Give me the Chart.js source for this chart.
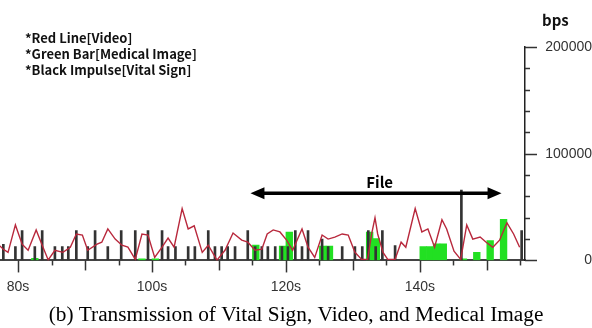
<!DOCTYPE html>
<html>
<head>
<meta charset="utf-8">
<script src="https://cdn.jsdelivr.net/npm/chart.js@4.4.1/dist/chart.umd.min.js"></script>
<style>
  html, body { margin: 0; padding: 0; background: #fff; }
  #wrap { width: 592px; height: 328px; }
</style>
</head>
<body>
<div id="wrap"><canvas id="grafico" width="592" height="328"></canvas></div>
<script>
// Red line: video traffic (time in s, bps)
const videoTimes = [77.2, 77.8, 78.5, 79.6, 80.6, 81.5, 82.7, 83.6, 84.5, 85.5, 86.7, 87.8, 88.7, 89.6, 90.4,
  91.8, 92.5, 93.4, 94.5, 95.5, 96.4, 97.5, 98.5, 99.4, 100.4, 101.5, 102.4, 103.3, 104.5, 105.4, 106.3,
  107.5, 108.4, 109.7, 110.9, 112.1, 113.4, 114.3, 115.4, 116.4, 117.2, 118.1, 119.1, 120.1, 121.0, 122.4,
  123.3, 124.3, 125.4, 126.3, 127.3, 128.4, 129.3, 130.3, 131.3, 132.2, 132.8, 133.3, 133.7, 134.5, 135.2,
  136.3, 137.2, 137.9, 139.3, 140.3, 141.2, 142.2, 143.3, 144.0, 145.1, 146.1, 147.0, 147.9, 149.0, 149.9,
  150.9, 151.9, 153.0, 154.0, 154.9];
const videoBps = [14000, 10500, 7600, 33300, 15200, 9500, 28600, 14300, 500, 9500, 7600, 12400, 24800, 23800, 9500,
  15200, 17100, 29500, 20000, 14300, 12400, 1000, 24800, 23800, 2900, 12400, 20900, 12400, 48600, 29500, 32400,
  7600, 14300, 300, 9500, 25700, 19000, 17100, 9500, 10500, 24800, 28600, 26700, 19000, 9500, 29500,
  12400, 2900, 23800, 20000, 21900, 24800, 23800, 7600, 1000, 1000, 24800, 40000, 24800, 7600, 1000,
  1000, 17100, 12400, 48600, 26700, 29500, 12400, 38100, 29500, 8600, 1000, 33300, 20000, 21900, 17100,
  12400, 19000, 35200, 24800, 12400];

// Green bars: medical image traffic
const imageTimes = [82.5, 98.5, 100.5, 115.5, 119.5, 120.5, 125.5, 126.5, 132.5, 133.5, 140.5, 141.5, 142.5, 143.5,
  146.5, 148.5, 150.5, 152.5];
const imageBps = [2000, 1500, 1500, 14500, 13500, 26500, 13500, 13500, 26500, 20500, 13000, 13000, 15500, 15500,
  1500, 7500, 18500, 38500];

// Black impulses: vital sign traffic
const vitalTimes = [77.8, 79.6, 80.6, 82.5, 83.6, 85.5, 86.6, 87.5, 88.7, 90.4, 91.5, 93.4, 95.4, 97.5, 99.4,
  101.5, 102.4, 103.5, 105.4, 106.4, 108.4, 109.4, 110.4, 111.3, 112.4, 114.3, 115.4, 116.4, 117.3, 118.4,
  119.4, 120.3, 121.4, 122.4, 123.3, 125.4, 126.3, 128.4, 130.3, 131.4, 132.3, 133.4, 134.4, 136.3, 146.2, 155.2];
const vitalBps = [15000, 13000, 28000, 13000, 28000, 13000, 13000, 13000, 28000, 13000, 28000, 13000, 28000, 28000, 28000,
  28000, 13000, 13000, 13000, 13000, 28000, 13000, 13000, 13000, 13000, 28000, 13000, 13000, 13000, 13000,
  13000, 13000, 28000, 13000, 28000, 20000, 13000, 13000, 13000, 13000, 28000, 13000, 28000, 14000, 66000, 28000];

// Axes
const xTickValues = [80, 100, 120, 140];
const xTickLabels = ['80s', '100s', '120s', '140s'];
const yTickValues = [0, 100000, 200000];
const yTickLabels = ['0', '100000', '200000'];
const xMin = 77.3, xMax = 155.7;
const yMax = 200000;

// Texts
const legendLines = ['*Red Line[Video]', '*Green Bar[Medical Image]', '*Black Impulse[Vital Sign]'];
const unitLabel = 'bps';
const fileLabel = 'File';
const fileRange = [114.7, 152.2]; // s
const fileLevel = 63000; // bps
const caption = '(b) Transmission of Vital Sign, Video, and Medical Image';

const toXY = (xs, ys) => xs.map((t, i) => ({ x: t, y: ys[i] }));

// Ticks, arrow and notes
const decoraciones = {
  id: 'decoraciones',
  afterDraw(chart) {
    const { ctx, chartArea } = chart;
    const x = chart.scales.x, y = chart.scales.y;
    ctx.save();

    // x ticks every 5 s
    ctx.strokeStyle = '#333';
    ctx.lineWidth = 1.5;
    for (let s = 80; s <= xMax; s += 5) {
      const px = Math.round(x.getPixelForValue(s)) + 0.5;
      const len = s % 20 === 0 ? 12 : (s % 10 === 0 ? 10 : 5);
      ctx.beginPath();
      ctx.moveTo(px, chartArea.bottom);
      ctx.lineTo(px, chartArea.bottom + len);
      ctx.stroke();
    }
    // y ticks every 20000
    for (let v = 0; v <= yMax; v += 20000) {
      const py = Math.round(y.getPixelForValue(v)) + 0.5;
      const len = v % 100000 === 0 ? 12 : 5;
      ctx.beginPath();
      ctx.moveTo(chartArea.right, py);
      ctx.lineTo(chartArea.right + len, py);
      ctx.stroke();
    }

    // File arrow
    const x1 = x.getPixelForValue(fileRange[0]);
    const x2 = x.getPixelForValue(fileRange[1]);
    const ya = y.getPixelForValue(fileLevel);
    ctx.fillStyle = '#000';
    ctx.strokeStyle = '#000';
    ctx.lineWidth = 3.5;
    ctx.beginPath();
    ctx.moveTo(x1 + 10, ya);
    ctx.lineTo(x2 - 10, ya);
    ctx.stroke();
    ctx.beginPath();
    ctx.moveTo(x1, ya); ctx.lineTo(x1 + 14, ya - 6); ctx.lineTo(x1 + 14, ya + 6); ctx.closePath();
    ctx.moveTo(x2, ya); ctx.lineTo(x2 - 14, ya - 6); ctx.lineTo(x2 - 14, ya + 6); ctx.closePath();
    ctx.fill();
    ctx.font = 'bold 15px "Noto Sans CJK KR", "Noto Sans", sans-serif';
    ctx.textAlign = 'center';
    ctx.textBaseline = 'middle';
    ctx.fillText(fileLabel, x.getPixelForValue(134.0), ya - 11);

    // notes top left
    ctx.font = 'bold 13px "Noto Sans CJK KR", "Noto Sans", sans-serif';
    ctx.textAlign = 'left';
    ctx.fillStyle = '#111';
    legendLines.forEach((t, i) => ctx.fillText(t, 25, 38 + i * 16));

    // unit
    ctx.font = 'bold 15px "Noto Sans CJK KR", "Noto Sans", sans-serif';
    ctx.fillText(unitLabel, 542, 20);
    ctx.restore();
  }
};

const ctx = document.getElementById('grafico').getContext('2d');
const grafico = new Chart(ctx, {
  type: 'bar',
  data: {
    datasets: [
      {
        type: 'line',
        label: 'Video',
        data: toXY(videoTimes, videoBps),
        borderColor: '#b8283c',
        borderWidth: 1.4,
        pointRadius: 0,
        tension: 0,
        fill: false,
        order: 0
      },
      {
        type: 'bar',
        label: 'Vital Sign',
        data: toXY(vitalTimes, vitalBps),
        backgroundColor: '#333',
        barThickness: 2,
        grouped: false,
        order: 1
      },
      {
        type: 'bar',
        label: 'Medical Image',
        data: toXY(imageTimes, imageBps),
        backgroundColor: '#22e022',
        barThickness: 6.7,
        grouped: false,
        order: 2
      }
    ]
  },
  options: {
    responsive: false,
    animation: false,
    devicePixelRatio: 1,
    layout: { padding: { top: 47, left: 0, right: 0, bottom: 0 } },
    plugins: {
      legend: { display: false },
      tooltip: { enabled: false },
      title: {
        display: true,
        position: 'bottom',
        text: caption,
        color: '#000',
        font: { family: '"Liberation Serif", "Times New Roman", serif', size: 21.3, weight: 'normal' },
        padding: { top: 7, bottom: 0 }
      }
    },
    scales: {
      x: {
        type: 'linear',
        min: xMin,
        max: xMax,
        offset: false,
        afterBuildTicks: (scale) => { scale.ticks = xTickValues.map(v => ({ value: v })); },
        afterFit: (scale) => { scale.height = 35; },
        grid: { display: true, drawOnChartArea: false, drawTicks: true, tickLength: 15, tickColor: 'rgba(0,0,0,0)' },
        border: { display: true, color: '#444', width: 2 },
        ticks: {
          padding: 3,
          color: '#333',
          font: { family: '"Liberation Sans", Arial, sans-serif', size: 14 },
          maxRotation: 0,
          callback: (v) => xTickLabels[xTickValues.indexOf(v)] ?? ''
        }
      },
      y: {
        type: 'linear',
        position: 'right',
        min: 0,
        max: yMax,
        afterBuildTicks: (scale) => { scale.ticks = yTickValues.map(v => ({ value: v })); },
        afterFit: (scale) => { scale.width = 67; },
        grid: { display: true, drawOnChartArea: false, drawTicks: true, tickLength: 15, tickColor: 'rgba(0,0,0,0)' },
        border: { display: true, color: '#222', width: 1.5 },
        ticks: {
          padding: 3,
          crossAlign: 'far',
          color: '#333',
          font: { family: '"Liberation Sans", Arial, sans-serif', size: 14 },
          callback: (v) => yTickLabels[yTickValues.indexOf(v)] ?? ''
        }
      }
    }
  },
  plugins: [decoraciones]
});
</script>
</body>
</html>
